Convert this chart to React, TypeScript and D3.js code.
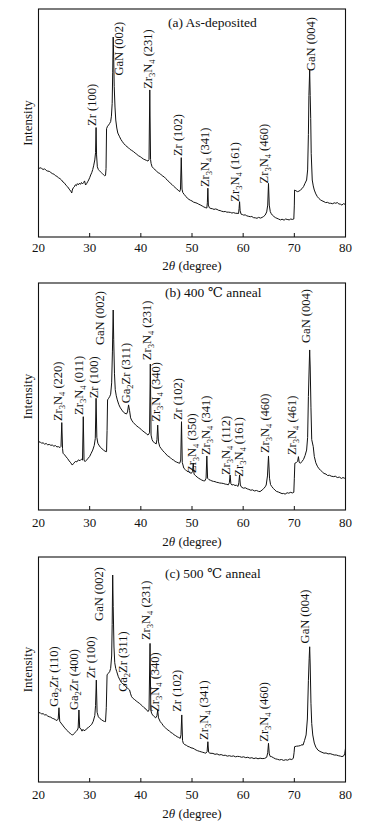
import React from "react";
import * as d3 from "d3";

// ---------- data ----------
const xTicks = [20, 30, 40, 50, 60, 70, 80];
const panelTitles = ["(a) As-deposited", "(b) 400 \u2103 anneal", "(c) 500 \u2103 anneal"];
const xTitleMain = "2";
const xTitleTheta = "\u03b8";
const xTitleUnit = " (degree)";
const yTitle = "Intensity";

// 2θ (deg), intensity (a.u., 0-100 of frame)
const scanA: [number, number][] = [
  [20.0, 29.8], [20.3, 30.4], [20.6, 30.1], [20.9, 29.6], [21.2, 29.9], [21.5, 29.2], [21.8, 28.9], [22.1, 28.8],
  [22.4, 28.3], [22.7, 27.8], [23.0, 27.6], [23.3, 26.9], [23.6, 26.6], [23.9, 26.0], [24.2, 25.6], [24.5, 25.0],
  [24.8, 24.1], [25.1, 23.6], [25.4, 22.6], [25.7, 22.0], [26.0, 21.0], [26.3, 20.1], [26.5, 19.3], [26.6, 20.6],
  [26.8, 21.6], [27.0, 22.0], [27.2, 22.9], [27.4, 22.5], [27.6, 23.4], [27.8, 22.9], [28.0, 23.6], [28.2, 23.1],
  [28.4, 23.9], [28.6, 23.3], [28.8, 23.8], [29.0, 24.6], [29.2, 22.8], [29.4, 23.4], [29.6, 24.2], [29.8, 25.0],
  [30.0, 26.0], [30.2, 27.2], [30.4, 28.2], [30.6, 29.6], [30.8, 31.5], [31.0, 33.8], [31.15, 37.0], [31.25, 48.0],
  [31.35, 36.0], [31.5, 30.8], [31.7, 29.6], [31.9, 29.1], [32.1, 28.6], [32.3, 28.2], [32.5, 27.8], [32.7, 27.3],
  [32.9, 26.9], [33.1, 27.0], [33.2, 30.0], [33.3, 47.5], [33.5, 48.6], [33.7, 49.1], [33.9, 49.8], [34.1, 50.6],
  [34.25, 53.0], [34.4, 58.6], [34.5, 72.0], [34.6, 87.7], [34.7, 78.0], [34.8, 65.9], [34.95, 57.0], [35.1, 51.3],
  [35.3, 47.8], [35.5, 45.6], [35.8, 44.2], [36.1, 42.8], [36.4, 41.8], [36.7, 40.9], [37.0, 40.2], [37.3, 39.6],
  [37.6, 39.1], [37.9, 38.4], [38.2, 38.0], [38.6, 37.4], [38.9, 36.8], [39.2, 36.3], [39.5, 35.7], [39.9, 35.2],
  [40.2, 34.7], [40.5, 34.2], [40.8, 33.9], [41.1, 33.6], [41.4, 33.3], [41.6, 34.0], [41.75, 64.5], [41.9, 34.0],
  [42.0, 32.3], [42.2, 30.8], [42.5, 30.1], [42.8, 29.4], [43.1, 28.8], [43.4, 28.2], [43.7, 27.9], [44.0, 27.2],
  [44.3, 26.7], [44.6, 26.3], [44.9, 25.6], [45.2, 24.8], [45.5, 24.3], [45.8, 23.5], [46.1, 23.0], [46.4, 22.3],
  [46.7, 21.7], [47.0, 21.1], [47.3, 20.5], [47.6, 19.9], [47.75, 21.0], [47.9, 34.8], [48.05, 21.0], [48.2, 19.5],
  [48.5, 18.6], [48.8, 17.8], [49.1, 17.0], [49.4, 16.5], [49.7, 16.1], [50.0, 15.8], [50.3, 15.3], [50.6, 15.1],
  [51.0, 14.8], [51.3, 14.4], [51.6, 14.1], [52.0, 13.6], [52.3, 13.2], [52.6, 12.9], [52.9, 12.7], [53.0, 15.0],
  [53.1, 21.4], [53.2, 14.0], [53.4, 12.8], [53.7, 12.5], [54.0, 12.4], [54.3, 12.1], [54.6, 12.3], [54.9, 12.1],
  [55.2, 11.7], [55.5, 11.6], [55.8, 11.3], [56.2, 11.1], [56.5, 11.2], [56.8, 10.9], [57.1, 10.9], [57.5, 10.8],
  [57.8, 10.5], [58.1, 10.7], [58.5, 10.4], [58.8, 10.4], [59.1, 10.3], [59.2, 12.5], [59.3, 15.5], [59.4, 11.5],
  [59.6, 10.0], [59.9, 9.8], [60.1, 9.6], [60.4, 9.7], [60.7, 9.3], [61.0, 9.1], [61.4, 8.9], [61.7, 9.0],
  [62.0, 8.5], [62.4, 8.4], [62.7, 8.2], [63.0, 8.6], [63.4, 8.3], [63.7, 8.6], [64.0, 9.0], [64.3, 9.6],
  [64.6, 11.0], [64.8, 14.0], [64.95, 23.5], [65.1, 14.0], [65.3, 11.1], [65.5, 10.2], [65.7, 9.6], [66.0, 9.0],
  [66.3, 8.5], [66.6, 8.2], [66.9, 7.9], [67.3, 7.5], [67.6, 7.8], [68.0, 7.4], [68.3, 7.9], [68.6, 7.7],
  [69.0, 7.5], [69.3, 7.9], [69.6, 7.7], [69.9, 7.9], [70.0, 14.0], [70.05, 20.6], [70.3, 20.3], [70.6, 19.9],
  [70.9, 20.1], [71.2, 20.6], [71.5, 21.2], [71.8, 22.1], [72.1, 23.6], [72.4, 25.0], [72.6, 29.4], [72.75, 45.0],
  [72.85, 62.0], [73.0, 73.2], [73.1, 62.0], [73.2, 52.0], [73.3, 36.7], [73.5, 25.0], [73.7, 22.4], [73.9, 20.6],
  [74.2, 18.9], [74.5, 17.7], [74.8, 16.9], [75.1, 16.3], [75.4, 15.9], [75.8, 15.5], [76.1, 15.1], [76.5, 15.2],
  [76.8, 14.8], [77.1, 14.8], [77.5, 14.6], [77.8, 15.0], [78.1, 14.8], [78.4, 15.1], [78.7, 14.5], [79.0, 14.4],
  [79.3, 14.0], [79.6, 14.6], [80.0, 14.3],
];

const scanB: [number, number][] = [
  [20.0, 29.7], [20.3, 30.1], [20.6, 29.4], [20.9, 29.6], [21.2, 29.0], [21.5, 29.3], [21.8, 28.7], [22.1, 28.9],
  [22.4, 28.5], [22.7, 28.6], [23.0, 28.1], [23.3, 28.4], [23.6, 27.8], [23.9, 27.9], [24.2, 27.5], [24.4, 28.0],
  [24.55, 38.5], [24.7, 27.0], [24.8, 25.0], [25.1, 24.3], [25.4, 23.4], [25.7, 22.6], [26.0, 21.6], [26.3, 20.8],
  [26.6, 19.8], [26.9, 20.6], [27.2, 21.4], [27.5, 21.2], [27.8, 22.1], [28.1, 21.7], [28.4, 22.4], [28.6, 22.0],
  [28.75, 41.1], [28.9, 22.0], [29.1, 21.3], [29.4, 22.0], [29.7, 22.8], [30.0, 23.6], [30.3, 25.0], [30.6, 26.4],
  [30.9, 28.5], [31.1, 31.5], [31.25, 49.2], [31.4, 32.0], [31.6, 29.4], [31.8, 28.6], [32.1, 27.6], [32.4, 27.0],
  [32.7, 26.4], [33.0, 25.9], [33.3, 25.7], [33.4, 35.0], [33.5, 48.5], [33.7, 49.2], [33.9, 49.9], [34.1, 51.0],
  [34.3, 56.0], [34.45, 70.0], [34.6, 88.1], [34.7, 75.0], [34.85, 60.0], [35.0, 53.0], [35.2, 50.3], [35.4, 48.5],
  [35.7, 46.4], [36.0, 45.0], [36.3, 44.0], [36.6, 43.1], [36.9, 42.6], [37.2, 42.3], [37.4, 43.2], [37.6, 46.3],
  [37.8, 43.8], [38.0, 40.6], [38.2, 39.6], [38.5, 38.6], [38.8, 37.9], [39.1, 37.2], [39.5, 36.5], [39.8, 36.0],
  [40.1, 35.4], [40.4, 34.8], [40.8, 34.1], [41.1, 33.6], [41.4, 33.0], [41.7, 34.0], [41.85, 64.3], [42.0, 33.0],
  [42.2, 31.0], [42.4, 30.1], [42.7, 29.6], [43.0, 29.1], [43.15, 31.0], [43.3, 37.4], [43.45, 30.0], [43.7, 27.9],
  [44.0, 27.0], [44.3, 26.1], [44.6, 25.4], [44.9, 24.7], [45.2, 23.9], [45.5, 23.5], [45.8, 23.0], [46.1, 22.3],
  [46.4, 22.0], [46.7, 21.4], [47.0, 21.1], [47.3, 20.8], [47.6, 20.6], [47.8, 22.0], [47.95, 38.9], [48.1, 21.0],
  [48.4, 18.4], [48.7, 17.8], [49.0, 17.1], [49.3, 16.9], [49.6, 16.4], [49.9, 16.2], [50.1, 17.0], [50.25, 20.6],
  [50.4, 15.8], [50.7, 15.1], [51.0, 14.5], [51.3, 14.0], [51.6, 13.6], [51.9, 13.2], [52.2, 12.9], [52.5, 12.8],
  [52.75, 14.0], [52.9, 23.8], [53.05, 14.0], [53.3, 13.4], [53.6, 13.1], [53.9, 12.8], [54.2, 12.6], [54.5, 12.5],
  [54.8, 12.2], [55.1, 12.1], [55.4, 11.9], [55.8, 11.8], [56.1, 11.7], [56.5, 11.4], [56.8, 11.3], [57.1, 11.1],
  [57.3, 12.0], [57.45, 15.4], [57.6, 11.5], [57.8, 11.0], [58.1, 11.2], [58.4, 10.8], [58.7, 10.9], [59.0, 10.4],
  [59.15, 12.0], [59.3, 15.4], [59.45, 11.0], [59.7, 10.0], [60.1, 9.6], [60.4, 9.8], [60.8, 9.3], [61.1, 9.1],
  [61.5, 8.7], [61.8, 8.9], [62.2, 8.4], [62.6, 8.6], [63.0, 8.2], [63.3, 8.1], [63.7, 8.8], [64.0, 9.4],
  [64.3, 10.2], [64.5, 11.0], [64.75, 15.0], [64.95, 23.8], [65.15, 14.0], [65.35, 11.2], [65.6, 10.3], [65.9, 9.5],
  [66.2, 8.8], [66.5, 8.2], [66.9, 7.9], [67.2, 7.6], [67.6, 7.2], [67.9, 7.3], [68.2, 7.0], [68.6, 7.6],
  [68.9, 7.4], [69.3, 7.8], [69.6, 7.5], [69.9, 7.8], [70.0, 14.0], [70.1, 20.6], [70.4, 20.9], [70.65, 21.5],
  [70.8, 23.5], [70.95, 21.0], [71.2, 20.6], [71.5, 21.4], [71.8, 22.3], [72.1, 24.0], [72.4, 26.4], [72.6, 32.0],
  [72.75, 50.0], [72.9, 63.0], [73.0, 70.5], [73.1, 63.0], [73.25, 45.0], [73.4, 31.0], [73.7, 27.9], [73.9, 23.6],
  [74.2, 20.8], [74.5, 19.3], [74.8, 18.2], [75.1, 17.6], [75.5, 16.7], [75.8, 16.1], [76.2, 15.8], [76.5, 15.2],
  [76.9, 15.3], [77.2, 14.9], [77.7, 14.7], [78.0, 14.9], [78.4, 14.3], [78.8, 14.5], [79.2, 13.9], [79.5, 14.3],
  [79.8, 14.0], [80.0, 14.2],
];

const scanC: [number, number][] = [
  [20.0, 30.5], [20.3, 30.9], [20.6, 30.2], [20.9, 30.4], [21.2, 29.8], [21.5, 29.9], [21.8, 29.3], [22.1, 29.0],
  [22.4, 28.8], [22.7, 28.3], [23.0, 28.1], [23.3, 27.7], [23.6, 27.3], [23.85, 28.0], [24.0, 33.0], [24.15, 27.0],
  [24.4, 26.2], [24.7, 25.3], [25.0, 24.4], [25.3, 23.6], [25.6, 22.9], [25.9, 22.1], [26.2, 21.6], [26.5, 21.0],
  [26.7, 20.9], [27.0, 21.6], [27.3, 22.4], [27.6, 23.1], [27.75, 24.0], [27.9, 32.0], [28.05, 24.0], [28.3, 23.6],
  [28.5, 22.6], [28.7, 23.4], [28.9, 22.8], [29.2, 23.1], [29.5, 23.9], [29.8, 24.3], [30.1, 25.0], [30.4, 25.6],
  [30.7, 27.0], [31.0, 29.5], [31.15, 34.0], [31.3, 45.3], [31.45, 31.0], [31.7, 29.0], [32.0, 28.2], [32.3, 27.7],
  [32.6, 27.2], [32.9, 26.9], [33.1, 26.8], [33.25, 33.0], [33.4, 47.6], [33.6, 48.2], [33.9, 49.0], [34.1, 50.5],
  [34.3, 56.0], [34.4, 70.0], [34.5, 92.0], [34.6, 78.0], [34.75, 60.0], [34.9, 53.0], [35.1, 50.4], [35.3, 49.0],
  [35.6, 46.8], [35.9, 45.4], [36.2, 44.2], [36.5, 43.6], [36.8, 43.1], [37.1, 42.3], [37.4, 41.6], [37.6, 41.3],
  [37.8, 40.9], [38.0, 39.2], [38.2, 37.9], [38.5, 37.1], [38.8, 36.6], [39.1, 36.0], [39.4, 35.5], [39.7, 35.0],
  [40.0, 34.4], [40.3, 33.8], [40.6, 33.1], [41.0, 32.4], [41.4, 31.3], [41.6, 32.0], [41.8, 61.6], [41.95, 32.0],
  [42.1, 30.6], [42.3, 29.8], [42.6, 29.1], [42.9, 28.5], [43.15, 29.5], [43.3, 32.0], [43.45, 28.5], [43.8, 26.8],
  [44.1, 26.0], [44.4, 25.0], [44.7, 24.3], [45.0, 23.6], [45.3, 23.1], [45.6, 22.6], [45.9, 22.0], [46.2, 21.6],
  [46.5, 21.0], [46.8, 20.6], [47.1, 20.1], [47.4, 19.8], [47.7, 19.4], [47.85, 21.0], [48.0, 29.8], [48.15, 18.5],
  [48.3, 17.2], [48.6, 16.6], [48.9, 16.3], [49.2, 15.8], [49.5, 15.6], [49.8, 15.2], [50.2, 15.0], [50.5, 14.6],
  [50.8, 14.2], [51.1, 13.9], [51.5, 13.6], [51.8, 13.4], [52.1, 13.2], [52.4, 13.0], [52.7, 12.8], [52.95, 13.5],
  [53.1, 17.9], [53.25, 13.2], [53.5, 12.8], [54.1, 12.7], [54.5, 12.3], [54.9, 12.5], [55.3, 12.0], [55.7, 12.2],
  [56.1, 11.8], [56.5, 11.9], [56.9, 11.5], [57.3, 11.7], [57.7, 11.4], [58.1, 11.6], [58.5, 11.2], [58.9, 11.4],
  [59.3, 11.3], [59.7, 11.0], [60.1, 11.2], [60.5, 10.8], [60.9, 11.0], [61.3, 10.6], [61.7, 10.8], [62.1, 10.4],
  [62.5, 10.7], [62.9, 10.3], [63.3, 10.6], [63.7, 10.4], [64.2, 10.5], [64.6, 11.0], [64.8, 13.0], [64.95, 17.2],
  [65.1, 12.5], [65.3, 11.3], [65.5, 11.3], [65.9, 10.8], [66.3, 10.3], [66.7, 10.1], [67.1, 9.8], [67.5, 10.0],
  [67.9, 9.6], [68.3, 9.9], [68.7, 9.7], [69.1, 10.2], [69.5, 10.0], [69.8, 10.5], [69.95, 13.0], [70.05, 15.7],
  [70.4, 15.9], [70.8, 16.0], [71.2, 16.2], [71.5, 16.6], [71.7, 16.4], [72.0, 18.5], [72.3, 20.9], [72.55, 28.0],
  [72.75, 45.0], [72.9, 55.0], [73.0, 60.1], [73.1, 52.0], [73.25, 35.0], [73.4, 26.0], [73.6, 20.9], [73.9, 17.3],
  [74.2, 15.5], [74.6, 14.2], [75.0, 13.6], [75.4, 13.2], [75.8, 12.8], [76.2, 12.9], [76.6, 12.5], [77.0, 12.6],
  [77.4, 12.3], [77.8, 12.0], [78.2, 12.0], [78.6, 11.7], [79.0, 11.5], [79.3, 11.3], [79.6, 11.5], [79.85, 12.5],
  [80.0, 15.0],
];

// peak labels: [phase, (hkl), 2θ of label, intensity level of label foot]
const peaksA: [string, string, number, number][] = [
  ["Zr", "(100)", 31.28, 48.7], ["GaN", "(002)", 36.5, 70.8], ["Zr3N4", "(231)", 42.2, 65.0],
  ["Zr", "(102)", 48.1, 35.5], ["Zr3N4", "(341)", 53.3, 21.9], ["Zr3N4", "(161)", 59.1, 15.5],
  ["Zr3N4", "(460)", 64.8, 23.5], ["GaN", "(004)", 74.1, 72.8],
];
const peaksB: [string, string, number, number][] = [
  ["Zr3N4", "(220)", 24.57, 39.2], ["Zr3N4", "(011)", 28.69, 41.9], ["Zr", "(100)", 31.63, 49.2],
  ["GaN", "(002)", 32.75, 72.7], ["Ga2Zr", "(311)", 37.84, 47.0], ["Zr3N4", "(231)", 41.9, 66.0],
  ["Zr3N4", "(340)", 43.7, 38.9], ["Zr", "(102)", 47.98, 39.6], ["Zr3N4", "(350)", 50.8, 16.3],
  ["Zr3N4", "(341)", 53.5, 24.2], ["Zr3N4", "(112)", 57.45, 15.4], ["Zr3N4", "(161)", 60.06, 14.7],
  ["Zr3N4", "(460)", 65.1, 25.1], ["Zr3N4", "(461)", 70.4, 24.2], ["GaN", "(004)", 73.0, 73.6],
];
const peaksC: [string, string, number, number][] = [
  ["Ga2Zr", "(110)", 23.77, 33.5], ["Ga2Zr", "(400)", 27.68, 32.0], ["Zr", "(100)", 31.14, 46.1],
  ["GaN", "(002)", 32.7, 71.6], ["Ga2Zr", "(311)", 37.26, 40.1], ["Zr3N4", "(231)", 41.83, 63.1],
  ["Zr3N4", "(340)", 43.5, 31.2], ["Zr", "(102)", 47.89, 31.2], ["Zr3N4", "(341)", 53.09, 18.7],
  ["Zr3N4", "(460)", 64.95, 17.9], ["GaN", "(004)", 72.96, 61.6],
];

// ---------- layout ----------
const W = 382;
const H = 826;
const LEFT = 38.5;
const RIGHT = 345.5;
const FONT = "'Liberation Serif', 'Times New Roman', 'DejaVu Serif', serif";
const INK = "#111";

const panels = [
  { scan: scanA, peaks: peaksA, title: panelTitles[0], top: 9, bottom: 237, titleX: 168, titleDy: 18, tickDy: 15, axDy: 33 },
  { scan: scanB, peaks: peaksB, title: panelTitles[1], top: 283, bottom: 510, titleX: 165, titleDy: 14, tickDy: 17, axDy: 36 },
  { scan: scanC, peaks: peaksC, title: panelTitles[2], top: 557, bottom: 782, titleX: 165, titleDy: 21, tickDy: 17, axDy: 36 },
];

function PhaseLabel({ phase, hkl, x, y }: { phase: string; hkl: string; x: number; y: number }) {
  // digits in the phase name become subscripts
  const parts: { t: string; sub: boolean }[] = [];
  for (const ch of phase) {
    const sub = /[0-9]/.test(ch);
    const last = parts[parts.length - 1];
    if (last && last.sub === sub) last.t += ch;
    else parts.push({ t: ch, sub });
  }
  const nodes: React.ReactNode[] = [];
  let shifted = false;
  parts.forEach((p, i) => {
    if (p.sub) {
      nodes.push(
        <tspan key={i} dy={3} fontSize={8.5}>
          {p.t}
        </tspan>
      );
      shifted = true;
    } else {
      nodes.push(
        <tspan key={i} dy={shifted ? -3 : 0}>
          {p.t}
        </tspan>
      );
      shifted = false;
    }
  });
  nodes.push(
    <tspan key="hkl" dy={shifted ? -3 : 0}>
      {" " + hkl}
    </tspan>
  );
  return (
    <text
      transform={`translate(${x},${y}) rotate(-90)`}
      dy="0.35em"
      fontSize={12.5}
      fontFamily={FONT}
      fill={INK}
    >
      {nodes}
    </text>
  );
}

function Panel({ p }: { p: (typeof panels)[number] }) {
  const x = d3.scaleLinear().domain([20, 80]).range([LEFT, RIGHT]);
  const y = d3.scaleLinear().domain([0, 100]).range([p.bottom, p.top]);
  const line = d3
    .line<[number, number]>()
    .x((d) => x(d[0]))
    .y((d) => y(d[1]));
  const midY = (p.top + p.bottom) / 2;
  return (
    <g>
      <path d={line(p.scan) || ""} fill="none" stroke={INK} strokeWidth={1} strokeLinejoin="round" />
      <rect x={LEFT} y={p.top} width={RIGHT - LEFT} height={p.bottom - p.top} fill="none" stroke={INK} strokeWidth={1.1} />
      {xTicks.map((t) => (
        <g key={t}>
          <line x1={x(t)} x2={x(t)} y1={p.bottom} y2={p.bottom - 4} stroke={INK} strokeWidth={1} />
          <text x={x(t)} y={p.bottom + p.tickDy} textAnchor="middle" fontSize={13} fontFamily={FONT} fill={INK}>
            {t}
          </text>
        </g>
      ))}
      <text x={(LEFT + RIGHT) / 2} y={p.bottom + p.axDy} textAnchor="middle" fontSize={13} fontFamily={FONT} fill={INK}>
        {xTitleMain}
        <tspan fontStyle="italic">{xTitleTheta}</tspan>
        {xTitleUnit}
      </text>
      <text
        transform={`translate(27,${midY}) rotate(-90)`}
        dy="0.35em"
        textAnchor="middle"
        fontSize={13}
        fontFamily={FONT}
        fill={INK}
      >
        {yTitle}
      </text>
      <text x={p.titleX} y={p.top + p.titleDy} fontSize={13.5} fontFamily={FONT} fill={INK}>
        {p.title}
      </text>
      {p.peaks.map(([phase, hkl, th, lv], i) => (
        <PhaseLabel key={i} phase={phase} hkl={hkl} x={x(th)} y={y(lv)} />
      ))}
    </g>
  );
}

export default function App() {
  return (
    <svg
      width={W}
      height={H}
      viewBox={`0 0 ${W} ${H}`}
      style={{ position: "absolute", left: 0, top: 0, background: "#fff" }}
    >
      <rect x={0} y={0} width={W} height={H} fill="#fff" />
      {panels.map((p, i) => (
        <Panel key={i} p={p} />
      ))}
    </svg>
  );
}
